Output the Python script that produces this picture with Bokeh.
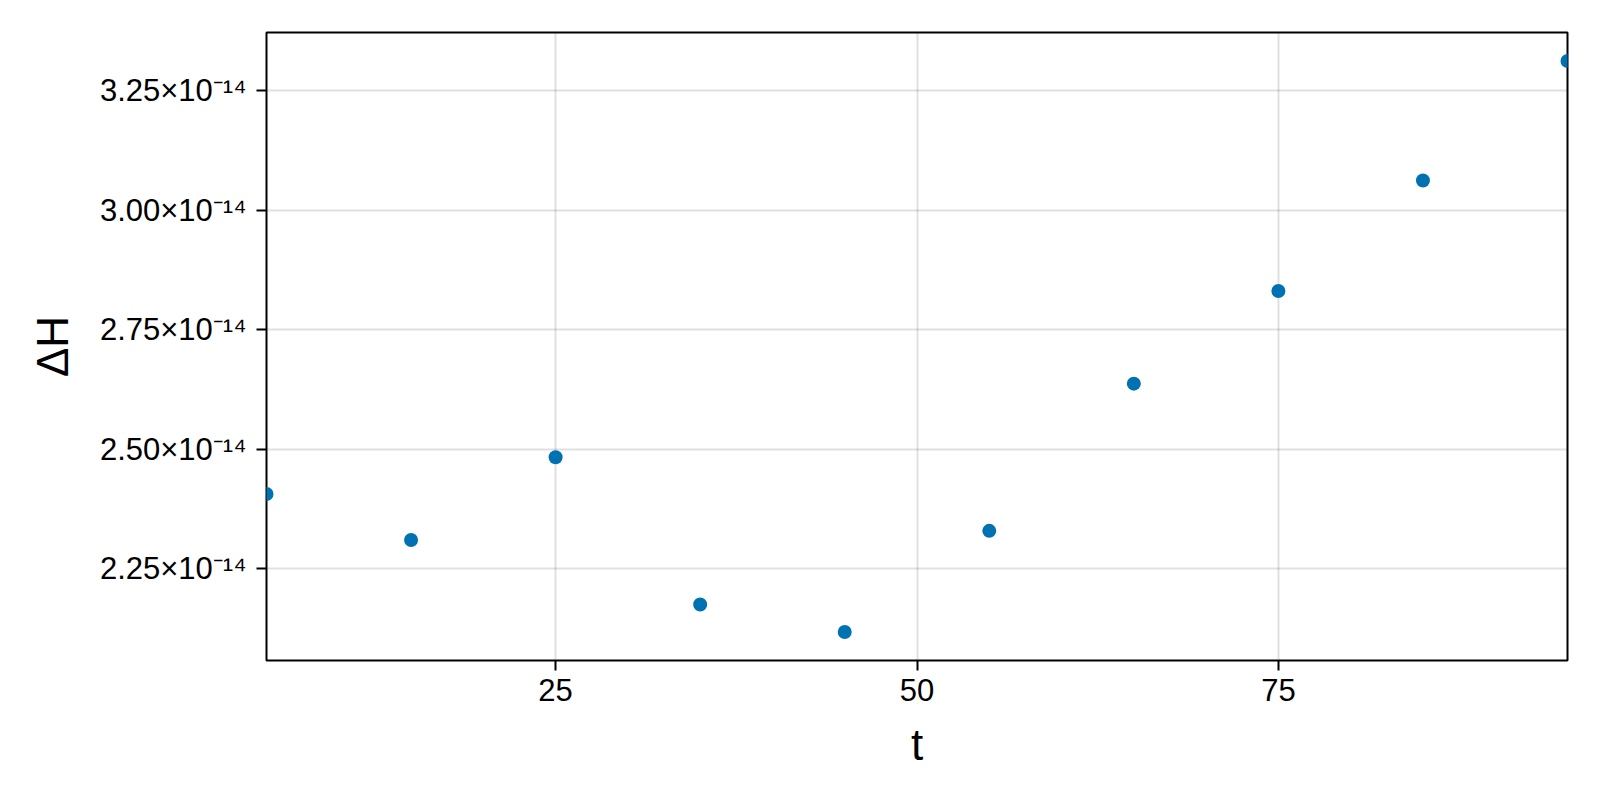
from bokeh.plotting import figure
from bokeh.models import FixedTicker, CustomJSTickFormatter, Range1d, ColumnDataSource
from bokeh.embed import file_html
from bokeh.resources import INLINE

# ---- data ----
t = [5, 15, 25, 35, 45, 55, 65, 75, 85, 95]
dH = [2.406e-14, 2.310e-14, 2.483e-14, 2.175e-14, 2.1175e-14,
      2.329e-14, 2.637e-14, 2.831e-14, 3.062e-14, 3.312e-14]
x_ticks = [25, 50, 75]
y_ticks = [2.25e-14, 2.50e-14, 2.75e-14, 3.00e-14, 3.25e-14]
x_label = "t"
y_label = "ΔH"

FONT = "Liberation Sans"

ymin, ymax = min(dH), max(dH)
pad = 0.05 * (ymax - ymin)

p = figure(width=1584, height=784, output_backend="svg", toolbar_location=None,
           x_range=Range1d(5, 95), y_range=Range1d(ymin - pad, ymax + pad),
           min_border_left=266, min_border_right=17, min_border_top=32,
           min_border_bottom=124)
p.background_fill_color = "white"
p.border_fill_color = "white"
p.outline_line_color = "black"
p.outline_line_width = 2

src = ColumnDataSource(dict(t=t, dH=dH))
p.scatter("t", "dH", source=src, size=14, fill_color="#0072B2", line_color=None)

p.xaxis.ticker = FixedTicker(ticks=x_ticks)
p.yaxis.ticker = FixedTicker(ticks=y_ticks)
p.yaxis.formatter = CustomJSTickFormatter(
    code="return (tick*1e14).toFixed(2) + '\u00d710\u207b\u00b9\u2074';")

for ax in (p.xaxis[0], p.yaxis[0]):
    ax.axis_line_color = None
    ax.major_tick_in = 0
    ax.major_tick_out = 10
    ax.major_tick_line_width = 2
    ax.major_tick_line_color = "black"
    ax.minor_tick_line_color = None
    ax.major_label_text_font = FONT
    ax.major_label_text_font_size = "31px"
    ax.major_label_text_color = "black"
    ax.axis_label_text_font = FONT
    ax.axis_label_text_font_size = "44px"
    ax.axis_label_text_font_style = "normal"
    ax.axis_label_text_color = "black"

p.xaxis.axis_label = x_label
p.yaxis.axis_label = y_label
p.xaxis.major_label_standoff = 8
p.yaxis.major_label_standoff = 10
p.xaxis.axis_label_standoff = 16
p.yaxis.axis_label_standoff = 20

p.grid.grid_line_color = "black"
p.grid.grid_line_alpha = 0.12
p.grid.grid_line_width = 2

with open("out.html", "w", encoding="utf-8") as f:
    f.write(file_html(p, INLINE))
